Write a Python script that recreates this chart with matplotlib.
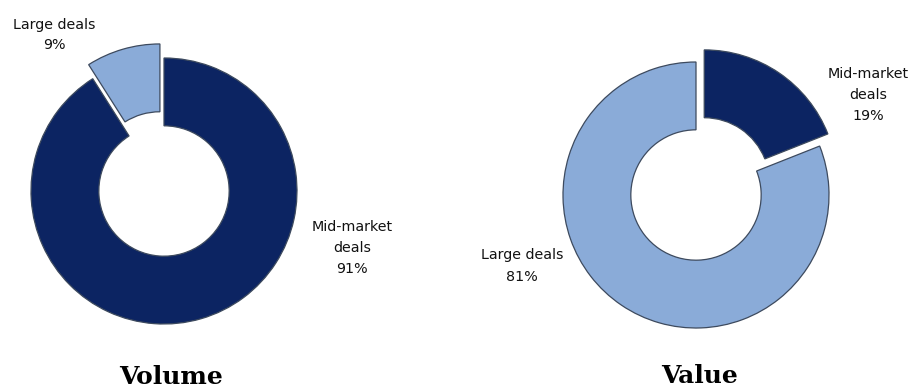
import matplotlib
matplotlib.use("Agg")
import matplotlib.pyplot as plt

# deal share split, order: mid-market then large
segments = ["Mid-market\ndeals", "Large deals"]
volume_pct = [91, 9]
value_pct = [19, 81]

dark_navy = "#0c2462"
light_blue = "#8aabd8"
edge = "#3d4a5e"

W, H = 911, 389
R = 133  # ring outer radius in pixels
side = 2.3 * R

fig = plt.figure(figsize=(W / 100, H / 100), dpi=100)


def make_ax(cx, cy):
    ax = fig.add_axes([(cx - side / 2) / W, (H - cy - side / 2) / H, side / W, side / H])
    return ax


def donut(ax, vals, explode):
    wedges, _ = ax.pie(vals, colors=[dark_navy, light_blue], startangle=90,
                       counterclock=False, explode=explode, radius=1.0,
                       wedgeprops=dict(width=0.51, edgecolor=edge, linewidth=0.9))
    # pie() resets the limits, so fix them afterwards
    ax.set_xlim(-1.15, 1.15)
    ax.set_ylim(-1.15, 1.15)
    ax.set_aspect("equal")
    ax.axis("off")
    return wedges


ax1 = make_ax(164, 191)
donut(ax1, volume_pct, [0, 0.11])

ax2 = make_ax(696, 195)
donut(ax2, value_pct, [0.11, 0])

lbl = dict(ha="center", va="center", fontsize=10.3, color="#111111", linespacing=1.65)


def fig_text(px, py, s, **kw):
    fig.text(px / W, 1 - py / H, s, **kw)


fig_text(54, 35, "Large deals\n%d%%" % volume_pct[1], linespacing=1.5,
         **{k: v for k, v in lbl.items() if k != "linespacing"})
fig_text(352, 248, "%s\n%d%%" % (segments[0], volume_pct[0]), **lbl)
fig_text(868, 95, "%s\n%d%%" % (segments[0], value_pct[0]), **lbl)
fig_text(522, 266, "Large deals\n%d%%" % value_pct[1], **lbl)

ttl = dict(ha="center", va="center", fontsize=18, fontweight="bold",
           family="DejaVu Serif", color="black")
fig_text(171, 377, "Volume", **ttl)
fig_text(700, 376, "Value", **ttl)

fig.savefig("out.png", dpi=100)
